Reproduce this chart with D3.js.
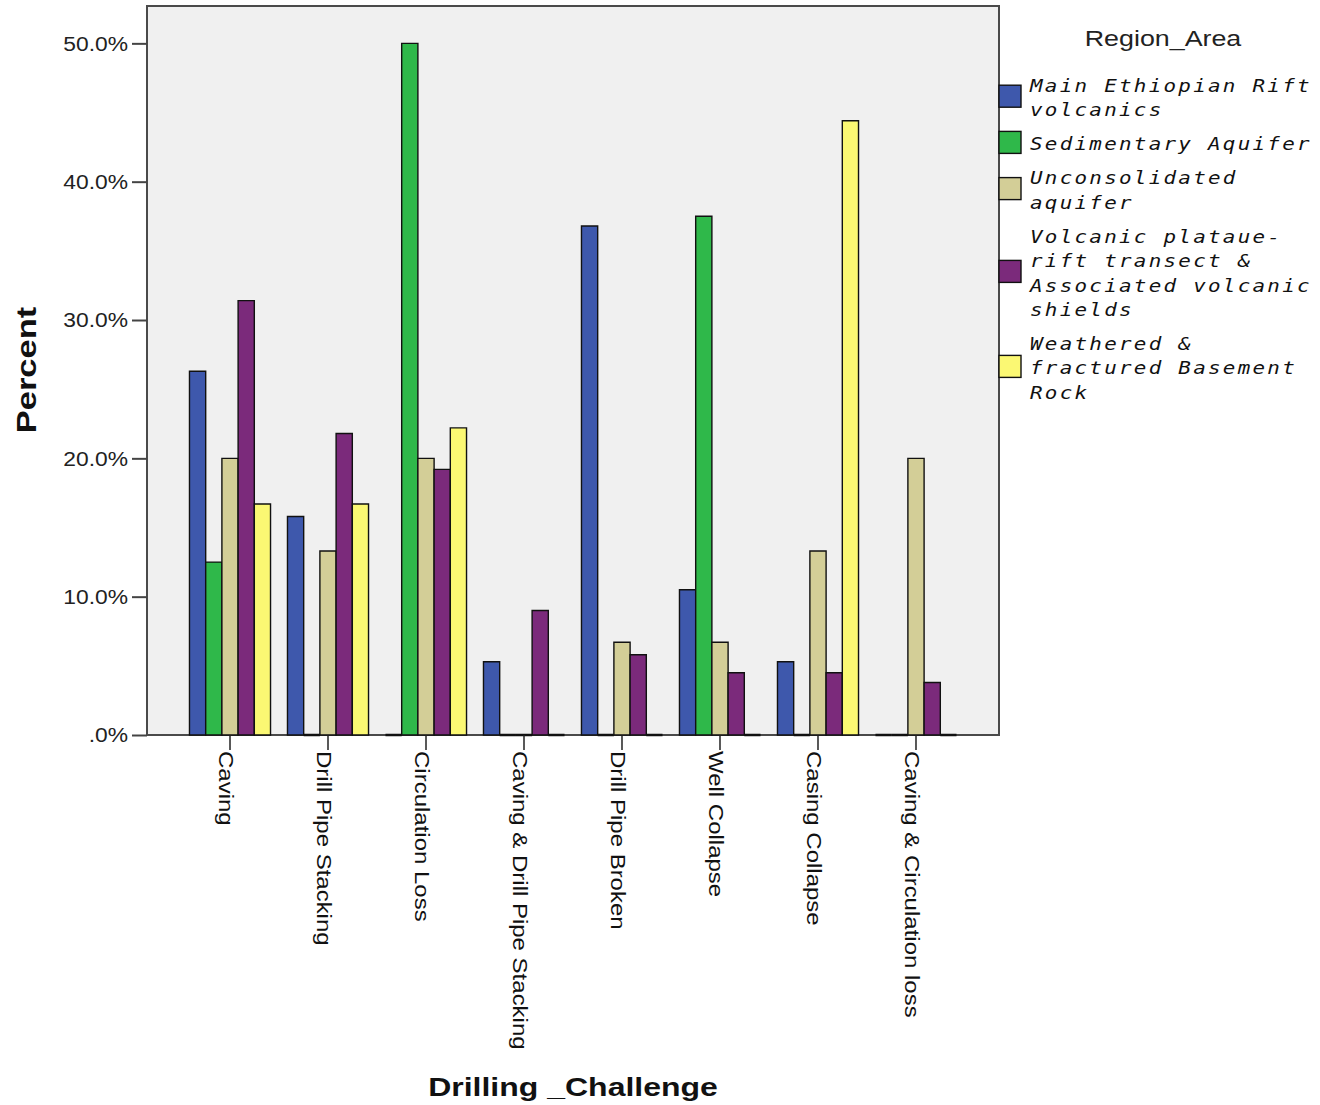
<!DOCTYPE html>
<html>
<head>
<meta charset="utf-8">
<script src="https://cdn.jsdelivr.net/npm/d3@7"></script>
<style>
  html, body { margin: 0; padding: 0; background: #ffffff; }
  svg { display: block; }
</style>
</head>
<body>
<svg id="chart" width="1320" height="1105"></svg>
<script>
// ---------- data ----------
const categories = [
  "Caving", "Drill Pipe Stacking", "Circulation Loss", "Caving & Drill Pipe Stacking",
  "Drill Pipe Broken", "Well Collapse", "Casing Collapse", "Caving & Circulation loss"
];
const seriesNames = [
  "Main Ethiopian Rift volcanics",
  "Sedimentary Aquifer",
  "Unconsolidated aquifer",
  "Volcanic plataue-rift transect & Associated volcanic shields",
  "Weathered & fractured Basement Rock"
];
const legendLines = [
  ["Main Ethiopian Rift", "volcanics"],
  ["Sedimentary Aquifer"],
  ["Unconsolidated", "aquifer"],
  ["Volcanic plataue-", "rift transect &", "Associated volcanic", "shields"],
  ["Weathered &", "fractured Basement", "Rock"]
];
const mainEthiopianRift   = [26.3, 15.8, 0.0, 5.3, 36.8, 10.5, 5.3, 0.0];
const sedimentaryAquifer  = [12.5, 0.0, 50.0, 0.0, 0.0, 37.5, 0.0, 0.0];
const unconsolidated      = [20.0, 13.3, 20.0, 0.0, 6.7, 6.7, 13.3, 20.0];
const volcanicPlateau     = [31.4, 21.8, 19.2, 9.0, 5.8, 4.5, 4.5, 3.8];
const weatheredBasement   = [16.7, 16.7, 22.2, 0.0, 0.0, 0.0, 44.4, 0.0];
const seriesValues = [mainEthiopianRift, sedimentaryAquifer, unconsolidated, volcanicPlateau, weatheredBasement];
const seriesColors = ["#3e58ac", "#2fb84a", "#d3ce97", "#7b2a7b", "#fbf873"];
const yTickValues = [0, 10, 20, 30, 40, 50];
const yTickLabels = [".0%", "10.0%", "20.0%", "30.0%", "40.0%", "50.0%"];
const yTitle = "Percent";
const xTitle = "Drilling _Challenge";
const legendTitle = "Region_Area";

// ---------- layout ----------
const svg = d3.select("#chart");
const plot = { left: 147, right: 999, top: 6, bottom: 735 };

const x0 = d3.scaleBand().domain(categories)
  .range([plot.left, plot.right]).paddingInner(0.173).paddingOuter(0.4335);
const x1 = d3.scaleBand().domain(seriesNames).range([0, x0.bandwidth()]).padding(0);
const y = d3.scaleLinear().domain([0, 52.7]).range([plot.bottom, plot.top]);
const color = d3.scaleOrdinal().domain(seriesNames).range(seriesColors);

// plot background + frame
svg.append("rect")
  .attr("x", plot.left).attr("y", plot.top)
  .attr("width", plot.right - plot.left).attr("height", plot.bottom - plot.top)
  .attr("fill", "#f0f0f0").attr("stroke", "#4a4a4a").attr("stroke-width", 2);

// bars
const records = [];
categories.forEach((c, ci) => {
  seriesNames.forEach((s, si) => {
    records.push({ cat: c, series: s, value: seriesValues[si][ci] });
  });
});
svg.append("g").selectAll("path")
  .data(records)
  .join("path")
  .attr("d", d => {
    const xl = x0(d.cat) + x1(d.series);
    const w = x1.bandwidth();
    const yt = y(d.value), yb = y(0);
    return `M${xl},${yb}V${yt}H${xl + w}V${yb}Z`;
  })
  .attr("fill", d => color(d.series))
  .attr("stroke", "#111")
  .attr("stroke-width", d => d.value === 0 ? 2.4 : 1.4);

// y axis
const yAxis = d3.axisLeft(y).tickValues(yTickValues)
  .tickSize(15).tickPadding(4)
  .tickFormat((d, i) => yTickLabels[i]);
const gy = svg.append("g").attr("transform", `translate(${plot.left},0)`).call(yAxis);
gy.select(".domain").remove();
gy.selectAll(".tick line").attr("stroke", "#444").attr("stroke-width", 2);
gy.selectAll(".tick text")
  .attr("font-family", "'Liberation Sans', Arial, sans-serif")
  .attr("font-size", 19.5).attr("fill", "#222")
  .attr("text-anchor", "end")
  .attr("x", null).attr("dy", "0.35em")
  .attr("transform", "translate(-19,0) scale(1.17,1)");

// x axis
const xAxis = d3.axisBottom(x0).tickSize(15).tickSizeOuter(0).tickPadding(0);
const gx = svg.append("g").attr("transform", `translate(0,${plot.bottom})`).call(xAxis);
gx.select(".domain").remove();
gx.selectAll(".tick line").attr("stroke", "#222").attr("stroke-width", 1.5);
gx.selectAll(".tick text")
  .attr("font-family", "'Liberation Sans', Arial, sans-serif")
  .attr("font-size", 20).attr("fill", "#111")
  .attr("text-anchor", "start")
  .attr("y", null).attr("dy", null)
  .attr("transform", "translate(-11,16) rotate(90) scale(1.2,1)");

// axis titles
svg.append("text")
  .attr("transform", "translate(36,370) rotate(-90) scale(1.28,1)")
  .attr("text-anchor", "middle")
  .attr("font-family", "'Liberation Sans', Arial, sans-serif")
  .attr("font-weight", "bold").attr("font-size", 27).attr("fill", "#111")
  .text(yTitle);

svg.append("text")
  .attr("transform", "translate(573,1096) scale(1.28,1)")
  .attr("text-anchor", "middle")
  .attr("font-family", "'Liberation Sans', Arial, sans-serif")
  .attr("font-weight", "bold").attr("font-size", 25).attr("fill", "#111")
  .text(xTitle);

// legend
svg.append("text")
  .attr("transform", "translate(1163,46) scale(1.22,1)")
  .attr("text-anchor", "middle")
  .attr("font-family", "'Liberation Sans', Arial, sans-serif")
  .attr("font-size", 22).attr("fill", "#222")
  .text(legendTitle);

const lineH = 24.4, itemStep = 34;
let base = 92;
const legend = svg.append("g");
seriesNames.forEach((s, i) => {
  const lines = legendLines[i];
  const first = base;
  const last = base + (lines.length - 1) * lineH;
  const mid = (first + last) / 2 - 6 - 2;
  legend.append("rect")
    .attr("x", 999).attr("y", mid - 11)
    .attr("width", 22).attr("height", 22)
    .attr("fill", color(s)).attr("stroke", "#111").attr("stroke-width", 1.4);
  lines.forEach((ln, li) => {
    legend.append("text")
      .attr("transform", `translate(1030,${first + li * lineH}) scale(1.13,1)`)
      .attr("font-family", "'DejaVu Sans Mono', monospace")
      .attr("font-style", "italic")
      .attr("font-size", 18.5)
      .attr("letter-spacing", 2)
      .attr("fill", "#111")
      .text(ln);
  });
  base = last + itemStep;
});
</script>
</body>
</html>
